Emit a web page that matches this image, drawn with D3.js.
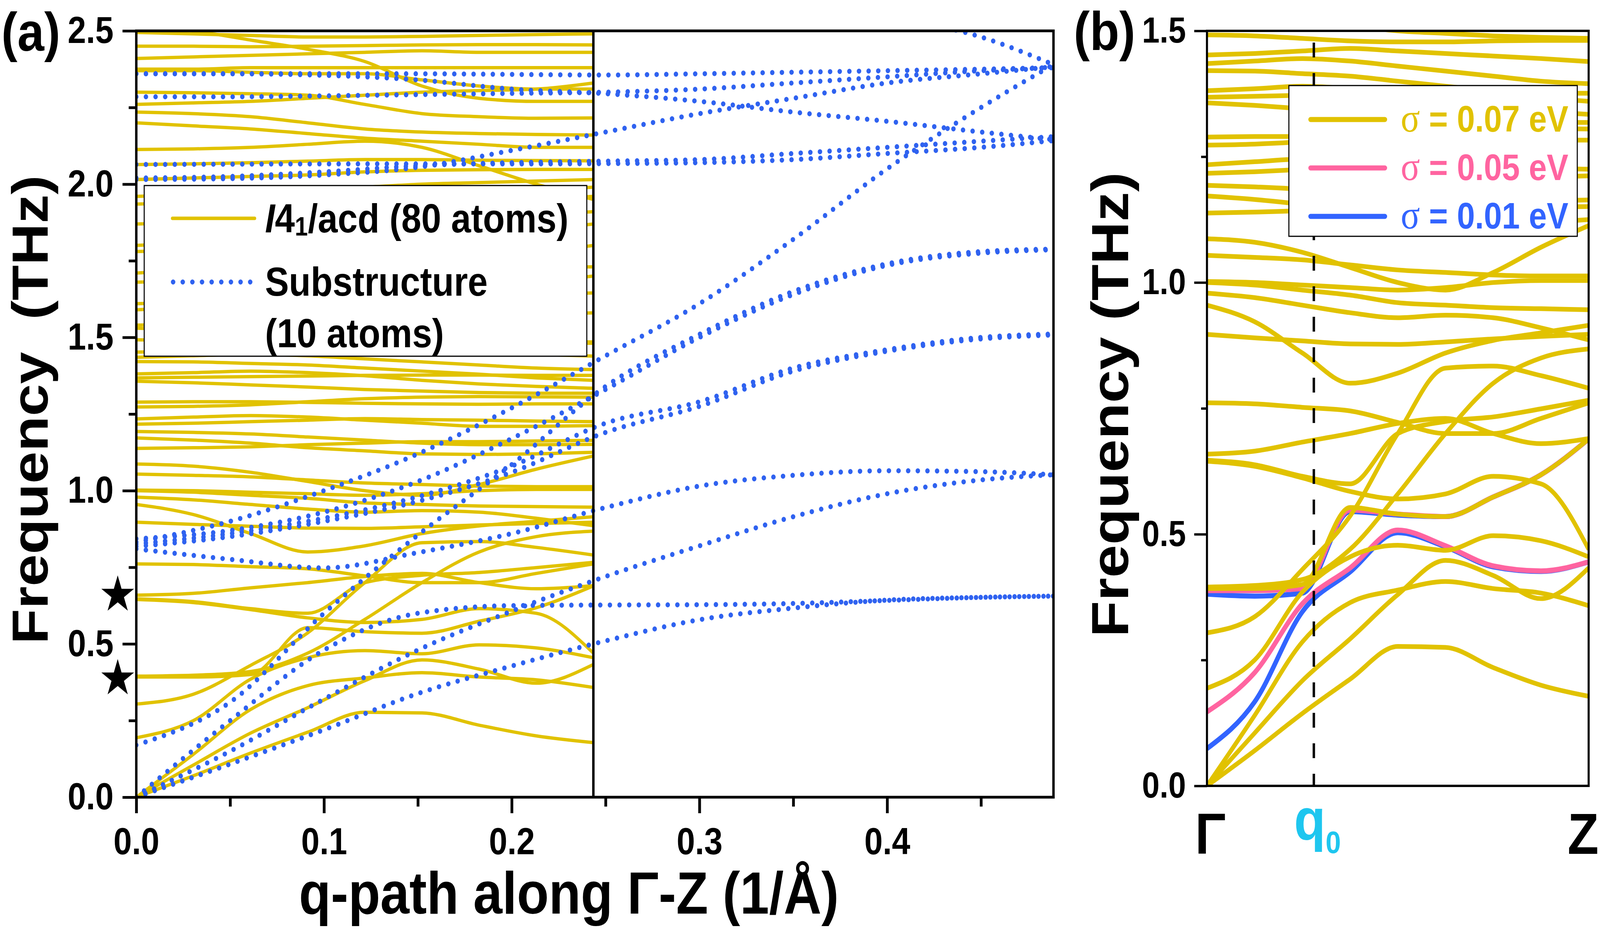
<!DOCTYPE html>
<html lang="en">
<head>
<meta charset="utf-8">
<title>Phonon bands: I41/acd vs substructure</title>
<script src="https://cdn.jsdelivr.net/npm/d3@7"></script>
<style type="text/css">
    html, body { margin: 0; padding: 0; background: white; overflow: hidden; }
    svg { display: block; width: 100vw; height: 100vh; }
    text { font-family: "Liberation Sans", Arial, sans-serif; font-weight: bold; }
</style>
</head>
<body>
<script type="text/javascript">

var W = 4649, H = 2381;

// q grid of the 80 atom bands, as fraction of Gamma-Z
var bandU = [0, 0.125, 0.25, 0.375, 0.5, 0.625, 0.75, 0.875, 1];
// Gamma-Z length of the 80 atom cell (1/Å)
var zoneEdge = 0.2435;

// I41/acd (80 atoms) bands, THz, sigma = 0.07 eV
var goldBands = [
    [0, 0.07, 0.144, 0.212, 0.277, 0.275, 0.235, 0.200, 0.178],
    [0, 0.105, 0.209, 0.292, 0.38, 0.448, 0.418, 0.372, 0.433],
    [0, 0.14, 0.286, 0.364, 0.389, 0.406, 0.392, 0.383, 0.358],
    [0.194, 0.25, 0.385, 0.455, 0.478, 0.468, 0.497, 0.487, 0.455],
    [0.304, 0.336, 0.43, 0.536, 0.70, 0.83, 0.834, 0.815, 0.79],
    [0.392, 0.392, 0.40, 0.553, 0.54, 0.535, 0.574, 0.618, 0.689],
    [0.395, 0.398, 0.41, 0.47, 0.58, 0.70, 0.80, 0.85, 0.868],
    [0.647, 0.638, 0.615, 0.60, 0.70, 0.724, 0.733, 0.749, 0.766],
    [0.645, 0.635, 0.612, 0.585, 0.57, 0.58, 0.615, 0.60, 0.47],
    [0.659, 0.665, 0.683, 0.70, 0.72, 0.73, 0.70, 0.68, 0.69],
    [0.761, 0.759, 0.752, 0.745, 0.722, 0.70, 0.70, 0.73, 0.761],
    [0.897, 0.89, 0.884, 0.878, 0.877, 0.882, 0.888, 0.893, 0.897],
    [0.955, 0.922, 0.86, 0.80, 0.82, 0.86, 0.885, 0.90, 0.915],
    [0.979, 0.97, 0.955, 0.94, 0.93, 0.935, 0.93, 0.91, 0.886],
    [1.0, 0.995, 0.985, 0.975, 0.96, 0.955, 0.95, 0.948, 0.946],
    [1.002, 1.0, 0.995, 0.99, 0.985, 0.99, 1.0, 1.004, 1.004],
    [1.054, 1.05, 1.045, 1.035, 1.025, 1.02, 1.015, 1.013, 1.013],
    [1.087, 1.08, 1.06, 1.03, 1.0, 0.985, 1.02, 1.07, 1.113],
    [1.138, 1.14, 1.143, 1.15, 1.155, 1.16, 1.16, 1.162, 1.164],
    [1.172, 1.165, 1.155, 1.14, 1.13, 1.12, 1.118, 1.12, 1.125],
    [1.193, 1.19, 1.185, 1.175, 1.165, 1.155, 1.15, 1.15, 1.151],
    [1.217, 1.22, 1.225, 1.23, 1.235, 1.232, 1.23, 1.227, 1.225],
    [1.234, 1.24, 1.245, 1.24, 1.23, 1.22, 1.21, 1.21, 1.212],
    [1.273, 1.275, 1.28, 1.29, 1.3, 1.305, 1.307, 1.306, 1.305],
    [1.289, 1.29, 1.29, 1.288, 1.285, 1.283, 1.282, 1.283, 1.283],
    [1.357, 1.352, 1.345, 1.338, 1.33, 1.325, 1.32, 1.318, 1.318],
    [1.368, 1.37, 1.372, 1.374, 1.376, 1.377, 1.377, 1.376, 1.376],
    [1.381, 1.385, 1.39, 1.385, 1.375, 1.36, 1.348, 1.34, 1.334],
    [1.421, 1.42, 1.415, 1.41, 1.4, 1.39, 1.38, 1.368, 1.36],
    [1.435, 1.44, 1.445, 1.44, 1.43, 1.42, 1.41, 1.40, 1.395],
    [1.452, 1.455, 1.46, 1.465, 1.46, 1.455, 1.45, 1.445, 1.439],
    [1.492, 1.49, 1.485, 1.48, 1.478, 1.478, 1.48, 1.481, 1.481],
    [1.53, 1.525, 1.52, 1.51, 1.5, 1.495, 1.49, 1.487, 1.485],
    [1.54, 1.545, 1.55, 1.555, 1.56, 1.565, 1.57, 1.575, 1.58],
    [1.59, 1.60, 1.61, 1.62, 1.625, 1.63, 1.635, 1.64, 1.645],
    [1.61, 1.615, 1.62, 1.625, 1.63, 1.64, 1.66, 1.68, 1.70],
    [1.68, 1.685, 1.69, 1.70, 1.71, 1.72, 1.725, 1.73, 1.73],
    [1.71, 1.72, 1.73, 1.74, 1.75, 1.76, 1.77, 1.78, 1.80],
    [1.78, 1.785, 1.79, 1.80, 1.81, 1.82, 1.83, 1.85, 1.87],
    [1.80, 1.81, 1.83, 1.85, 1.87, 1.88, 1.89, 1.90, 1.91],
    [1.87, 1.875, 1.88, 1.89, 1.90, 1.92, 1.94, 1.95, 1.96],
    [1.935, 1.94, 1.945, 1.95, 1.955, 1.96, 1.97, 1.98, 1.99],
    [1.96, 1.965, 1.97, 1.98, 1.99, 2.0, 2.005, 2.01, 2.015],
    [2.015, 2.02, 2.025, 2.03, 2.04, 2.045, 2.047, 2.048, 2.048],
    [2.064, 2.066, 2.07, 2.075, 2.08, 2.08, 2.078, 2.077, 2.076],
    [2.113, 2.115, 2.12, 2.13, 2.14, 2.12, 2.06, 2.0, 1.95],
    [2.20, 2.19, 2.18, 2.165, 2.15, 2.14, 2.13, 2.12, 2.12],
    [2.235, 2.23, 2.22, 2.2, 2.18, 2.17, 2.165, 2.162, 2.16],
    [2.26, 2.265, 2.27, 2.28, 2.29, 2.30, 2.305, 2.31, 2.33],
    [2.30, 2.298, 2.295, 2.29, 2.26, 2.23, 2.22, 2.215, 2.216],
    [2.52, 2.5, 2.47, 2.44, 2.40, 2.32, 2.28, 2.27, 2.27],
    [2.37, 2.37, 2.365, 2.36, 2.36, 2.34, 2.32, 2.31, 2.31],
    [2.375, 2.375, 2.38, 2.38, 2.38, 2.38, 2.38, 2.38, 2.38],
    [2.41, 2.415, 2.42, 2.425, 2.43, 2.435, 2.43, 2.43, 2.43],
    [2.45, 2.45, 2.448, 2.45, 2.452, 2.454, 2.455, 2.455, 2.454],
    [2.495, 2.49, 2.485, 2.48, 2.48, 2.482, 2.485, 2.488, 2.49]
];

// the two bands that change with smearing
var sigma05Bands = [
    [0.147, 0.225, 0.362, 0.433, 0.508, 0.477, 0.437, 0.427, 0.445],
    [0.388, 0.388, 0.392, 0.548, 0.54, 0.535, 0.574, 0.618, 0.689]
];
var sigma01Bands = [
    [0.074, 0.167, 0.346, 0.425, 0.503, 0.475, 0.435, 0.426, 0.445],
    [0.381, 0.377, 0.383, 0.545, 0.538, 0.535, 0.574, 0.618, 0.689]
];

// substructure (10 atoms) bands, q in 1/Å
var subQ = [0, 0.05, 0.1, 0.15, 0.2, 0.25, 0.3, 0.35, 0.4, 0.45, 0.4886];
var subBands = [
    [0, 0.108, 0.22, 0.338, 0.428, 0.51, 0.579, 0.617, 0.643, 0.652, 0.656],
    [0, 0.25, 0.48, 0.6, 0.625, 0.627, 0.628, 0.632, 0.642, 0.652, 0.656],
    [0, 0.15, 0.32, 0.48, 0.607, 0.72, 0.82, 0.915, 0.99, 1.035, 1.052],
    [0.17, 0.31, 0.60, 0.855, 1.085, 1.34, 1.51, 1.65, 1.74, 1.78, 1.788],
    [0.843, 0.87, 0.93, 1.03, 1.17, 1.33, 1.50, 1.64, 1.735, 1.775, 1.786],
    [0.832, 0.90, 1.0, 1.12, 1.27, 1.44, 1.61, 1.82, 2.05, 2.25, 2.39],
    [0.826, 0.86, 0.91, 0.98, 1.08, 1.22, 1.29, 1.40, 1.46, 1.50, 1.511],
    [0.818, 0.85, 0.90, 0.965, 1.06, 1.19, 1.275, 1.39, 1.455, 1.495, 1.508],
    [0.81, 0.776, 0.748, 0.798, 0.86, 0.945, 1.015, 1.05, 1.065, 1.062, 1.052],
    [2.015, 2.018, 2.03, 2.055, 2.11, 2.17, 2.23, 2.28, 2.33, 2.36, 2.383],
    [2.02, 2.025, 2.04, 2.06, 2.07, 2.075, 2.08, 2.10, 2.12, 2.14, 2.155],
    [2.064, 2.065, 2.066, 2.066, 2.066, 2.067, 2.07, 2.08, 2.10, 2.12, 2.142],
    [2.285, 2.285, 2.288, 2.292, 2.296, 2.30, 2.31, 2.33, 2.35, 2.37, 2.38],
    [2.36, 2.36, 2.355, 2.34, 2.31, 2.295, 2.27, 2.235, 2.205, 2.17, 2.145],
    [2.36, 2.36, 2.36, 2.36, 2.358, 2.356, 2.36, 2.365, 2.37, 2.375, 2.38],
    [3.3, 3.2, 3.1, 3.0, 2.9, 2.8, 2.7, 2.62, 2.55, 2.48, 2.39]
];

var yTicksA = [0, 0.5, 1, 1.5, 2, 2.5];
var yMinorA = [0.25, 0.75, 1.25, 1.75, 2.25];
var xTicksA = [0, 0.1, 0.2, 0.3, 0.4];
var xMinorA = [0.05, 0.15, 0.25, 0.35, 0.45];
var yTicksB = [0, 0.5, 1, 1.5];
var yMinorB = [0.25, 0.75, 1.25];
var starFreq = [0.66, 0.387];
var q0 = 0.28;
var sigmaLabels = ["0.07", "0.05", "0.01"];

var gold = "#e1c200", pink = "#ff64a0", blue = "#3264ff", dotBlue = "#2f62f0", cyan = "#1ec6ef";

var svg = d3.select("body")
    .append("svg")
    .attr("viewBox", "0 0 " + W + " " + H)
    .attr("preserveAspectRatio", "none");

var xA = d3.scaleLinear().domain([0, 0.4886]).range([396, 3061]);
var yA = d3.scaleLinear().domain([0, 2.5]).range([2041, 79]);
var xB = d3.scaleLinear().domain([0, 1]).range([3507, 4616]);
var yB = d3.scaleLinear().domain([0, 1.5]).range([2012, 79]);

//Clip regions
var defs = svg.append("defs");
defs.append("clipPath").attr("id", "clipGold").append("rect")
    .attr("x", xA(0)).attr("y", yA(2.5))
    .attr("width", xA(zoneEdge) - xA(0)).attr("height", yA(0) - yA(2.5));
defs.append("clipPath").attr("id", "clipA").append("rect")
    .attr("x", xA(0)).attr("y", yA(2.5))
    .attr("width", xA(0.4886) - xA(0)).attr("height", yA(0) - yA(2.5));
defs.append("clipPath").attr("id", "clipB").append("rect")
    .attr("x", xB(0)).attr("y", yB(1.5))
    .attr("width", xB(1) - xB(0)).attr("height", yB(0) - yB(1.5));

function styleAxis(g, fs, sw) {
    g.select(".domain").remove();
    g.attr("font-size", fs);
    g.selectAll("line").attr("stroke", "black").attr("stroke-width", sw);
    g.selectAll("text").attr("fill", "black");
}

// ---------------- panel (a) ----------------
var lineA = d3.line()
    .x(function (d, i) { return xA(bandU[i] * zoneEdge); })
    .y(function (d) { return yA(d); })
    .curve(d3.curveMonotoneX);

svg.append("g")
    .attr("clip-path", "url(#clipGold)")
    .selectAll("path")
    .data(goldBands)
    .enter()
    .append("path")
    .attr("d", lineA)
    .attr("fill", "none")
    .attr("stroke", gold)
    .attr("stroke-width", 8.5);

var lineSub = d3.line()
    .x(function (d, i) { return xA(subQ[i]); })
    .y(function (d) { return yA(d); })
    .curve(d3.curveMonotoneX);

svg.append("g")
    .attr("clip-path", "url(#clipA)")
    .selectAll("path")
    .data(subBands)
    .enter()
    .append("path")
    .attr("d", lineSub)
    .attr("fill", "none")
    .attr("stroke", dotBlue)
    .attr("stroke-width", 13)
    .attr("stroke-linecap", "round")
    .attr("stroke-dasharray", "0 28");

//Axes
svg.append("g")
    .attr("transform", "translate(" + xA(0) + ",0)")
    .call(d3.axisLeft(yA).tickValues(yTicksA).tickFormat(d3.format(".1f")).tickSize(40).tickPadding(26))
    .call(styleAxis, 96, 7);
svg.append("g")
    .attr("transform", "translate(" + xA(0) + ",0)")
    .call(d3.axisLeft(yA).tickValues(yMinorA).tickFormat("").tickSize(22))
    .call(styleAxis, 96, 7);
svg.append("g")
    .attr("transform", "translate(0," + yA(0) + ")")
    .call(d3.axisBottom(xA).tickValues(xTicksA).tickFormat(d3.format(".1f")).tickSize(41).tickPadding(37))
    .call(styleAxis, 96, 8);
svg.append("g")
    .attr("transform", "translate(0," + yA(0) + ")")
    .call(d3.axisBottom(xA).tickValues(xMinorA).tickFormat("").tickSize(24))
    .call(styleAxis, 96, 8);

//Frame and zone divider
svg.append("rect")
    .attr("x", xA(0)).attr("y", yA(2.5))
    .attr("width", xA(0.4886) - xA(0)).attr("height", yA(0) - yA(2.5))
    .attr("fill", "none").attr("stroke", "black").attr("stroke-width", 7);
svg.append("line")
    .attr("x1", xA(zoneEdge)).attr("x2", xA(zoneEdge))
    .attr("y1", yA(2.5)).attr("y2", yA(0))
    .attr("stroke", "black").attr("stroke-width", 7);

//Stars
svg.selectAll("path.star")
    .data(starFreq)
    .enter()
    .append("path")
    .attr("class", "star")
    .attr("transform", function (d) { return "translate(342," + yA(d) + ")"; })
    .attr("d", d3.symbol().type(d3.symbolStar).size(2800))
    .attr("fill", "black");

//Legend (a)
var legA = svg.append("g");
legA.append("rect")
    .attr("x", 419).attr("y", 475).attr("width", 1286).attr("height", 437)
    .attr("fill", "white").attr("stroke", "black").attr("stroke-width", 3);
legA.append("line")
    .attr("x1", 501).attr("x2", 740).attr("y1", 559).attr("y2", 559)
    .attr("stroke", gold).attr("stroke-width", 9).attr("stroke-linecap", "round");
legA.append("line")
    .attr("x1", 503).attr("x2", 740).attr("y1", 722).attr("y2", 722)
    .attr("stroke", dotBlue).attr("stroke-width", 13)
    .attr("stroke-linecap", "round").attr("stroke-dasharray", "0 28");
var t1 = legA.append("text").attr("x", 770).attr("y", 595).attr("font-size", 104);
t1.append("tspan").attr("font-style", "italic").text("I");
t1.append("tspan").text("4");
t1.append("tspan").attr("font-size", 68).attr("dy", 8).text("1");
t1.append("tspan").attr("dy", -8).text("/acd (80 atoms)");
legA.append("text").attr("x", 770).attr("y", 757).attr("font-size", 104).text("Substructure");
legA.append("text").attr("x", 770).attr("y", 889).attr("font-size", 104).text("(10 atoms)");

//Titles (a)
svg.append("text")
    .attr("transform", "translate(138,1049) rotate(-90)")
    .attr("text-anchor", "middle")
    .attr("font-size", 148)
    .style("white-space", "pre")
    .text("Frequency  (THz)");
svg.append("text")
    .attr("x", 1653).attr("y", 2339)
    .attr("text-anchor", "middle")
    .attr("font-size", 152)
    .text("q-path along Γ-Z (1/Å)");
svg.append("text")
    .attr("x", 4).attr("y", 130)
    .attr("font-size", 140)
    .text("(a)");

// ---------------- panel (b) ----------------
var lineB = d3.line()
    .x(function (d, i) { return xB(bandU[i]); })
    .y(function (d) { return yB(d); })
    .curve(d3.curveMonotoneX);

var gB = svg.append("g").attr("clip-path", "url(#clipB)");

gB.selectAll("path.s01")
    .data(sigma01Bands)
    .enter()
    .append("path")
    .attr("class", "s01")
    .attr("d", lineB)
    .attr("fill", "none")
    .attr("stroke", blue)
    .attr("stroke-width", 13);

gB.selectAll("path.s05")
    .data(sigma05Bands)
    .enter()
    .append("path")
    .attr("class", "s05")
    .attr("d", lineB)
    .attr("fill", "none")
    .attr("stroke", pink)
    .attr("stroke-width", 13);

gB.selectAll("path.s07")
    .data(goldBands)
    .enter()
    .append("path")
    .attr("class", "s07")
    .attr("d", lineB)
    .attr("fill", "none")
    .attr("stroke", gold)
    .attr("stroke-width", 12);

//q0 marker
svg.append("line")
    .attr("x1", xB(q0)).attr("x2", xB(q0))
    .attr("y1", yB(1.5) + 30).attr("y2", yB(0))
    .attr("stroke", "black").attr("stroke-width", 7)
    .attr("stroke-dasharray", "38 40");

svg.append("g")
    .attr("transform", "translate(" + xB(0) + ",0)")
    .call(d3.axisLeft(yB).tickValues(yTicksB).tickFormat(d3.format(".1f")).tickSize(37).tickPadding(24))
    .call(styleAxis, 92, 6);
svg.append("g")
    .attr("transform", "translate(" + xB(0) + ",0)")
    .call(d3.axisLeft(yB).tickValues(yMinorB).tickFormat("").tickSize(17))
    .call(styleAxis, 92, 6);

svg.append("rect")
    .attr("x", xB(0)).attr("y", yB(1.5))
    .attr("width", xB(1) - xB(0)).attr("height", yB(0) - yB(1.5))
    .attr("fill", "none").attr("stroke", "black").attr("stroke-width", 6);

//Legend (b)
var legB = svg.append("g");
legB.append("rect")
    .attr("x", 3745).attr("y", 219).attr("width", 838).attr("height", 386)
    .attr("fill", "white").attr("stroke", "black").attr("stroke-width", 3);
var legColors = [gold, pink, blue];
sigmaLabels.forEach(function (s, i) {
    var ly = 306 + i * 124;
    legB.append("line")
        .attr("x1", 3808).attr("x2", 4024).attr("y1", ly).attr("y2", ly)
        .attr("stroke", legColors[i]).attr("stroke-width", 13).attr("stroke-linecap", "round");
    var t = legB.append("text")
        .attr("x", 4070).attr("y", ly + 31)
        .attr("font-size", 94)
        .attr("fill", legColors[i])
        .style("white-space", "pre");
    t.append("tspan")
        .style("font-family", "'Liberation Serif', 'Times New Roman', serif")
        .style("font-weight", "normal")
        .style("font-size", "104px")
        .text("σ");
    t.append("tspan").text(" = " + s + " eV");
});

//Titles (b)
svg.append("text")
    .attr("transform", "translate(3278,1036) rotate(-90)")
    .attr("text-anchor", "middle")
    .attr("font-size", 152)
    .text("Frequency (THz)");
svg.append("text")
    .attr("x", 3120).attr("y", 128)
    .attr("font-size", 140)
    .text("(b)");
svg.append("text")
    .attr("x", 3517).attr("y", 2186)
    .attr("text-anchor", "middle")
    .attr("font-size", 148)
    .text("Γ");
svg.append("text")
    .attr("x", 4600).attr("y", 2186)
    .attr("text-anchor", "middle")
    .attr("font-size", 148)
    .text("Z");
var tq = svg.append("text")
    .attr("x", 3760).attr("y", 2150)
    .attr("font-size", 150)
    .attr("fill", cyan);
tq.append("tspan").text("q");
tq.append("tspan").attr("font-size", 80).attr("dy", 34).text("0");

</script>
</body>
</html>
